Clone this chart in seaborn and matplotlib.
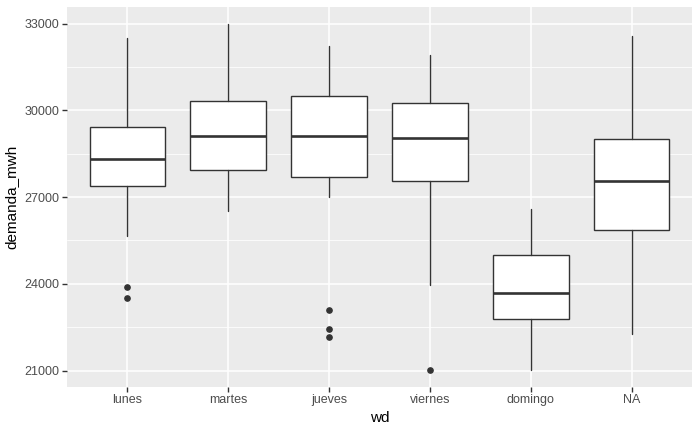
import matplotlib
matplotlib.use("Agg")
import matplotlib.pyplot as plt
import seaborn as sns
import numpy as np

categories = ["lunes", "martes", "jueves", "viernes", "domingo", "NA"]
whisker_low = [25660, 26530, 27010, 23970, 21030, 22250]
q1 = [27380, 27920, 27680, 27540, 22770, 25850]
median = [28330, 29110, 29120, 29050, 23680, 27550]
q3 = [29410, 30310, 30480, 30240, 24980, 28990]
whisker_high = [32490, 32974, 32220, 31910, 26580, 32570]
outliers = [[23880, 23500], [], [23080, 22425, 22150], [21010], [], []]

y_ticks = [21000, 24000, 27000, 30000, 33000]
y_minor = [22500, 25500, 28500, 31500]

sns.set_theme(style="darkgrid", rc={
    "axes.facecolor": "#EBEBEB",
    "grid.color": "white",
    "axes.edgecolor": "#EBEBEB",
})
plt.rcParams["font.family"] = ["Liberation Sans", "DejaVu Sans"]

fig = plt.figure(figsize=(7.0, 4.32), dpi=100)
ax = fig.add_axes([67 / 700, 1 - 386.7 / 432, (692 - 67) / 700, (386.7 - 7) / 432])

stats = []
for i, c in enumerate(categories):
    stats.append(dict(label=c, whislo=whisker_low[i], q1=q1[i], med=median[i],
                      q3=q3[i], whishi=whisker_high[i], fliers=outliers[i]))

pos = np.arange(1, len(categories) + 1)
ax.bxp(stats, positions=pos, widths=0.75, patch_artist=True, showcaps=False,
       boxprops=dict(facecolor="white", edgecolor="#333333", linewidth=1.0),
       whiskerprops=dict(color="#333333", linewidth=1.0),
       medianprops=dict(color="#333333", linewidth=1.9),
       flierprops=dict(marker="o", markerfacecolor="#333333", markeredgecolor="#333333",
                       markersize=3.8, linestyle="none"),
       zorder=3)

ax.set_xlim(0.4, 6.6)
ax.set_ylim(20440, 33571)
ax.set_xticks(pos)
ax.set_xticklabels(categories)
ax.set_yticks(y_ticks)
ax.set_yticklabels([str(v) for v in y_ticks])
ax.set_yticks(y_minor, minor=True)
ax.grid(True, which="major", color="white", linewidth=1.1)
ax.grid(True, which="minor", axis="y", color="white", linewidth=0.55)
ax.set_axisbelow(True)
for s in ax.spines.values():
    s.set_visible(False)

ax.tick_params(axis="both", which="major", length=3.5, width=1.0, color="#333333",
               labelcolor="#4D4D4D", labelsize=9, pad=2, direction="out",
               bottom=True, left=True)
ax.tick_params(axis="y", which="minor", length=0, left=False)
ax.set_xlabel("wd", fontsize=11, color="black", labelpad=3)
ax.set_ylabel("demanda_mwh", fontsize=11, color="black", labelpad=4)

fig.savefig("out.png", dpi=100)
